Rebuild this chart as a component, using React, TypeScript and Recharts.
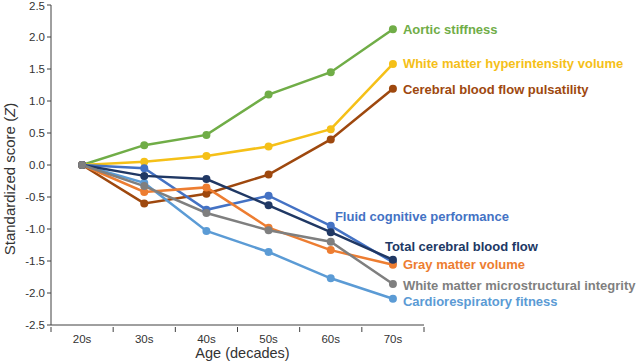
import React from "react"
import { LineChart, Line, XAxis, YAxis, Label } from "recharts"

const ages = ["20s", "30s", "40s", "50s", "60s", "70s"]
const yTicks = [-2.5, -2.0, -1.5, -1.0, -0.5, 0, 0.5, 1.0, 1.5, 2.0, 2.5]

const aortic = [0, 0.31, 0.47, 1.1, 1.45, 2.12]
const wmh = [0, 0.05, 0.14, 0.29, 0.56, 1.58]
const pulsatility = [0, -0.6, -0.45, -0.15, 0.4, 1.19]
const fluid = [0, -0.05, -0.7, -0.48, -0.95, -1.52]
const totalCbf = [0, -0.17, -0.22, -0.63, -1.05, -1.48]
const grayMatter = [0, -0.42, -0.35, -0.98, -1.33, -1.56]
const wmMicro = [0, -0.33, -0.75, -1.02, -1.2, -1.86]
const cardio = [0, -0.28, -1.03, -1.36, -1.77, -2.09]

const data = ages.map((age, i) => ({
  age,
  aortic: aortic[i],
  wmh: wmh[i],
  pulsatility: pulsatility[i],
  fluid: fluid[i],
  totalCbf: totalCbf[i],
  grayMatter: grayMatter[i],
  wmMicro: wmMicro[i],
  cardio: cardio[i],
}))

const W = 640
const H = 363
const MARGIN = { top: 5, right: 216, bottom: 0, left: 0 }
const X_H = 38
const Y_W = 51
const PLOT_W = W - MARGIN.right - Y_W
const STEP = PLOT_W / ages.length
const AXIS = "#404040"
const FONT = "Arial, 'Liberation Sans', sans-serif"
const LABEL_SIZE = 13

const series = [
  { key: "aortic", name: "Aortic stiffness", color: "#70AD47", dx: 10, dy: 0 },
  { key: "wmh", name: "White matter hyperintensity volume", color: "#F5C018", dx: 10, dy: 0 },
  { key: "pulsatility", name: "Cerebral blood flow pulsatility", color: "#9E480E", dx: 10, dy: 1 },
  { key: "fluid", name: "Fluid cognitive performance", color: "#4472C4", dx: -58, dy: -46 },
  { key: "cardio", name: "Cardiorespiratory fitness", color: "#5B9BD5", dx: 10, dy: 3 },
  { key: "grayMatter", name: "Gray matter volume", color: "#ED7D31", dx: 10, dy: 0 },
  { key: "totalCbf", name: "Total cerebral blood flow", color: "#203864", dx: -8, dy: -13 },
  { key: "wmMicro", name: "White matter microstructural integrity", color: "#7F7F7F", dx: 10, dy: 1 },
]

const endLabel = (text: string, color: string, dx: number, dy: number) => (props: any) => {
  const { x, y, index } = props
  if (index !== ages.length - 1) return null
  return (
    <text
      x={x + dx}
      y={y + dy}
      dominantBaseline="central"
      fill={color}
      fontSize={LABEL_SIZE}
      fontWeight="bold"
      fontFamily={FONT}
    >
      {text}
    </text>
  )
}

const AgeTick = (props: any) => {
  const { x, y, payload, index } = props
  const left = x - STEP / 2
  return (
    <g>
      <line x1={left} y1={y} x2={left} y2={y + 5} stroke={AXIS} />
      {index === ages.length - 1 && (
        <line x1={x + STEP / 2} y1={y} x2={x + STEP / 2} y2={y + 5} stroke={AXIS} />
      )}
      <text x={x} y={y + 12} textAnchor="middle" dominantBaseline="central" fill="#333" fontSize={11.5} fontFamily={FONT}>
        {payload.value}
      </text>
    </g>
  )
}

export default function App() {
  return (
    <div style={{ position: "absolute", left: 0, top: 0, background: "#fff" }}>
      <LineChart width={W} height={H} data={data} margin={MARGIN}>
        <XAxis
          dataKey="age"
          scale="band"
          height={X_H}
          stroke={AXIS}
          tickLine={false}
          tickSize={0}
          tick={<AgeTick />}
          interval={0}
        >
          <Label
            content={(props: any) => {
              const vb = props.viewBox
              return (
                <text
                  x={vb.x + vb.width / 2 + 5}
                  y={vb.y + 28}
                  textAnchor="middle"
                  dominantBaseline="central"
                  fill="#333"
                  fontSize={14.5}
                  fontFamily={FONT}
                >
                  Age (decades)
                </text>
              )
            }}
          />
        </XAxis>
        <YAxis
          width={Y_W}
          domain={[-2.5, 2.5]}
          ticks={yTicks}
          stroke={AXIS}
          tickSize={4}
          tickFormatter={(v: number) => v.toFixed(1)}
          tick={{ fill: "#333", fontSize: 11.5, fontFamily: FONT }}
        >
          <Label
            content={(props: any) => {
              const vb = props.viewBox
              return (
                <text
                  x={0}
                  y={0}
                  transform={`translate(${vb.x + 9}, ${vb.y + vb.height / 2 + 14}) rotate(-90)`}
                  textAnchor="middle"
                  dominantBaseline="central"
                  fill="#333"
                  fontSize={15}
                  fontFamily={FONT}
                >
                  Standardized score (<tspan fontStyle="italic">Z</tspan>)
                </text>
              )
            }}
          />
        </YAxis>
        {series.map((s) => (
          <Line
            key={s.key}
            dataKey={s.key}
            type="linear"
            stroke={s.color}
            strokeWidth={2.5}
            dot={{ r: 4, fill: s.color, stroke: s.color, strokeWidth: 0 }}
            activeDot={false}
            isAnimationActive={false}
            label={endLabel(s.name, s.color, s.dx, s.dy)}
          />
        ))}
      </LineChart>
    </div>
  )
}
